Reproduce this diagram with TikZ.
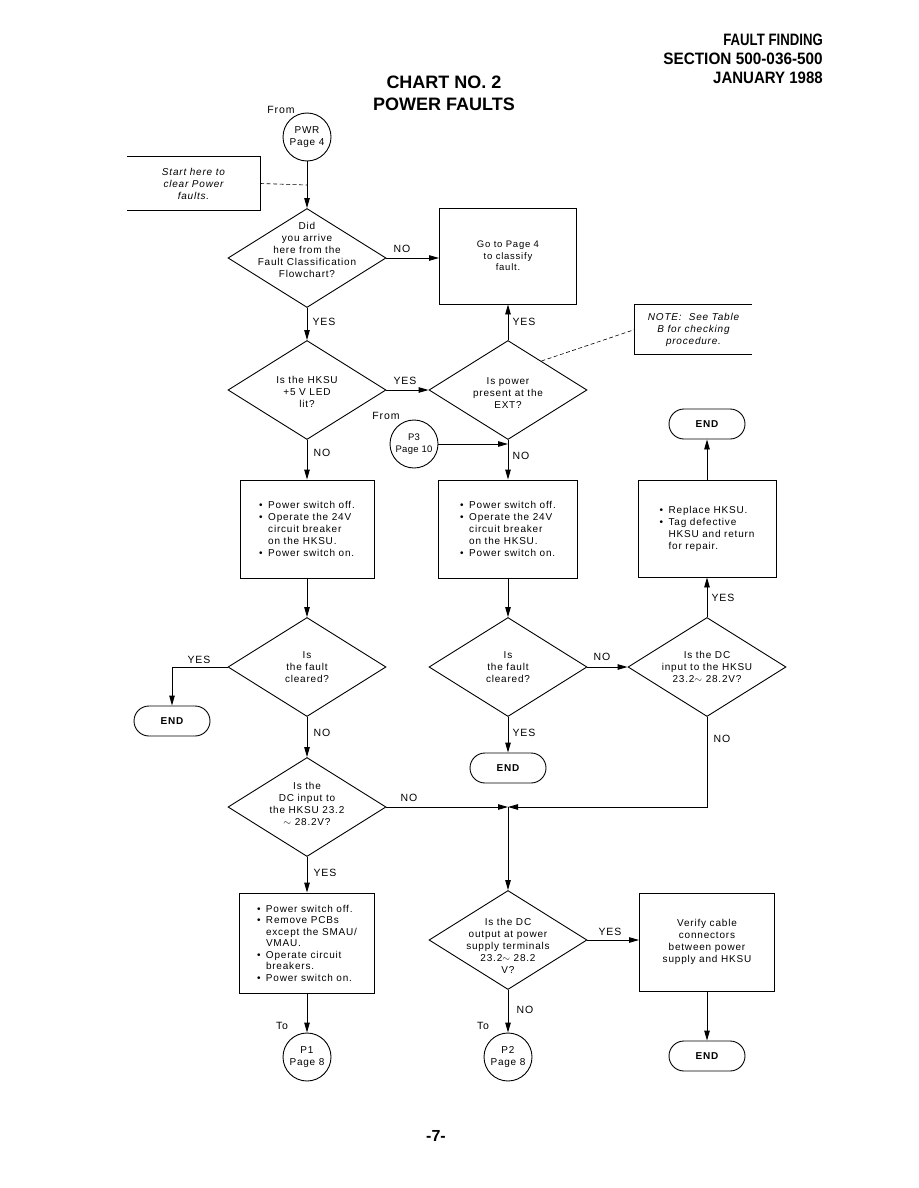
\documentclass[tikz,border=0pt]{standalone}
\usepackage{fontspec}
\usepackage{graphicx}
\setmainfont{Liberation Sans}
\newfontfamily\lbl[LetterSpace=8]{Liberation Sans}
\newfontfamily\lbltight[LetterSpace=3]{Liberation Sans}
\usetikzlibrary{shapes.geometric,shapes.misc,arrows.meta,calc}
\newcommand{\mybul}{\makebox[9pt][l]{\textbullet}}
\newcommand{\myind}{\hspace*{9pt}}
\begin{document}
\begin{tikzpicture}[x=1pt,y=-1pt,
  lw/.style={line width=0.9pt},
  dia/.style={diamond, draw, lw, minimum width=158pt, minimum height=99pt, inner sep=0pt},
  box/.style={rectangle, draw, lw, inner sep=0pt, font=\lbl\fontsize{10}{12}\selectfont, align=left},
  cbox/.style={box, align=center},
  circ/.style={circle, draw, lw, minimum size=48pt, inner sep=0pt, font=\lbl\fontsize{10}{11.5}\selectfont, align=center},
  endbox/.style={rounded rectangle, draw, lw, minimum width=76pt, minimum height=30pt, inner sep=0pt, font=\lbl\bfseries\fontsize{10}{11}\selectfont},
  txt/.style={font=\lbl\fontsize{10}{12}\selectfont, align=center, inner sep=0pt},
  itxt/.style={font=\lbl\itshape\fontsize{10}{12}\selectfont, align=center, inner sep=0pt},
  lab/.style={font=\lbl\fontsize{10.5}{11}\selectfont, inner sep=0pt},
  hdr/.style={font=\bfseries\fontsize{16.5}{18}\selectfont, inner sep=0pt, anchor=base east},
  ttl/.style={font=\bfseries\fontsize{18}{20}\selectfont, inner sep=0pt, anchor=base},
  arr/.style={lw, -{Triangle[length=10pt,width=5.5pt]}},
  conn/.style={lw},
  dsh/.style={line width=0.6pt, dashed, dash pattern=on 4pt off 2.5pt}
]
\useasboundingbox (0,0) rectangle (918,1188);
\fill[white] (0,0) rectangle (918,1188);

% header
\node[hdr] (h1) at (823,46) {\scalebox{0.8}[1]{FAULT FINDING}};
\node[hdr] (h2) at (823,65) {\scalebox{0.93}[1]{SECTION 500-036-500}};
\node[hdr] (h3) at (823,84) {\scalebox{0.91}[1]{JANUARY 1988}};
\node[ttl] (t1) at (444,89) {CHART NO. 2};
\node[ttl] (t2) at (444,111) {POWER FAULTS};
\node[font=\bfseries\fontsize{16}{18}\selectfont, inner sep=0pt] (pg) at (436,1136) {-7-};

% start note
\node[itxt, minimum width=133pt, minimum height=53pt] (start) at (193.5,183.5) {Start here to\\clear Power\\faults.};
\draw[lw] (start.north west) -- (start.north east) -- (start.south east) -- (start.south west);

% entry circle
\node[lab] (from1) at (281,110) {From};
\node[circ] (pwr) at (307,137) {PWR\\Page 4};

% diamonds
\node[dia] (d1) at (307,258) {};
\node[txt] (d1t) at (307,250) {Did\\you arrive\\here from the\\Fault Classification\\Flowchart?};
\node[dia] (d2) at (307,390) {};
\node[txt] (d2t) at (307,392) {Is the HKSU\\+5 V LED\\lit?};
\node[dia] (d3) at (508,390) {};
\node[txt] (d3t) at (508,393) {Is power\\present at the\\EXT?};
\node[dia] (d6) at (307,667) {};
\node[txt] (d6t) at (307,667) {Is\\the fault\\cleared?};
\node[dia] (d5) at (508,667) {};
\node[txt] (d5t) at (508,667) {Is\\the fault\\cleared?};
\node[dia] (d4) at (707,667) {};
\node[txt] (d4t) at (707,667) {Is the DC\\input to the HKSU\\23.2$\sim$ 28.2V?};
\node[dia] (d7) at (307,807) {};
\node[txt] (d7t) at (307,804) {Is the\\DC input to\\the HKSU 23.2\\$\sim$ 28.2V?};
\node[dia] (d8) at (508,940) {};
\node[txt] (d8t) at (508,946) {Is the DC\\output at power\\supply terminals\\23.2$\sim$ 28.2\\V?};

% boxes
\node[cbox, minimum width=137pt, minimum height=96pt, font=\lbl\fontsize{9.5}{11.5}\selectfont] (goto) at (508,256) {Go to Page 4\\to classify\\fault.};
\node[box, minimum width=134pt, minimum height=98pt] (b1) at (307,529) {\mybul Power switch off.\\\mybul Operate the 24V\\\myind circuit breaker\\\myind on the HKSU.\\\mybul Power switch on.};
\node[box, minimum width=139pt, minimum height=98pt] (b2) at (508,529) {\mybul Power switch off.\\\mybul Operate the 24V\\\myind circuit breaker\\\myind on the HKSU.\\\mybul Power switch on.};
\node[box, minimum width=138pt, minimum height=97pt] (b3) at (707,528.5) {\mybul Replace HKSU.\\\mybul Tag defective\\\myind HKSU and return\\\myind for repair.};
\node[cbox, minimum width=135pt, minimum height=98pt] (b4) at (707,942) {Verify cable\\connectors\\between power\\supply and HKSU};
\node[box, minimum width=135pt, minimum height=100pt, font=\lbl\fontsize{10}{11.5}\selectfont] (b5) at (307,943) {\mybul Power switch off.\\\mybul Remove PCBs\\\myind except the SMAU/\\\myind VMAU.\\\mybul Operate circuit\\\myind breakers.\\\mybul Power switch on.};

% note box
\node[itxt, minimum width=117pt, minimum height=49pt] (note) at (693.5,329.5) {NOTE:~ See Table\\B for checking\\procedure.};
\draw[lw] (note.north east) -- (note.north west) -- (note.south west) -- (note.south east);

% P3 circle
\node[lab] (from2) at (386,416) {From};
\node[circ, font=\lbltight\fontsize{9.5}{11.5}\selectfont] (p3) at (414,444) {P3\\Page 10};

% ENDs
\node[endbox] (e1) at (707,424) {END};
\node[endbox] (e2) at (172,721) {END};
\node[endbox] (e3) at (508,768) {END};
\node[endbox] (e4) at (707,1056) {END};

% exit circles
\node[lab] (to1) at (282,1026) {To};
\node[circ] (p1) at (307,1057) {P1\\Page 8};
\node[lab] (to2) at (483,1026) {To};
\node[circ] (p2) at (508,1057) {P2\\Page 8};

% coordinates
\coordinate (j0) at (307,185);
\coordinate (j1) at (508,807);
\coordinate (j2) at (p3.east -| d3.south);
\coordinate (nd) at ($(d3.north)!0.42!(d3.east)$);

% connectors
\draw[arr] (pwr.south) -- (d1.north);
\draw[dsh] (start.east) -- (j0);
\draw[arr] (d1.east) -- (d1.east -| goto.west);
\draw[arr] (d1.south) -- (d2.north);
\draw[arr] (d2.east) -- (d3.west);
\draw[arr] (d3.north) -- (goto.south);
\draw[dsh] (nd) -- (note.west);
\draw[arr] (d2.south) -- (b1.north);
\draw[arr] (d3.south) -- (b2.north);
\draw[arr] (p3.east) -- (j2);
\draw[arr] (b3.north) -- (e1.south);
\draw[arr] (d4.north) -- (b3.south);
\draw[arr] (b1.south) -- (d6.north);
\draw[arr] (b2.south) -- (d5.north);
\draw[arr] (d5.east) -- (d4.west);
\draw[arr] (d6.west) -| (e2.north);
\draw[arr] (d5.south) -- (e3.north);
\draw[arr] (d6.south) -- (d7.north);
\draw[arr] (d7.east) -- (j1);
\draw[arr] (d4.south) |- (j1);
\draw[arr] (j1) -- (d8.north);
\draw[arr] (d7.south) -- (b5.north);
\draw[arr] (d8.east) -- (d8.east -| b4.west);
\draw[arr] (b4.south) -- (e4.north);
\draw[arr] (b5.south) -- (p1.north);
\draw[arr] (d8.south) -- (p2.north);

% labels
\node[lab] (l1) at (402,249) {NO};
\node[lab] (l2) at (324,322) {YES};
\node[lab] (l3) at (524,322) {YES};
\node[lab] (l4) at (405,381) {YES};
\node[lab] (l5) at (322,453) {NO};
\node[lab] (l6) at (521,456) {NO};
\node[lab] (l7) at (723,598) {YES};
\node[lab] (l8) at (199,660) {YES};
\node[lab] (l9) at (602,657) {NO};
\node[lab] (l10) at (322,733) {NO};
\node[lab] (l11) at (524,733) {YES};
\node[lab] (l12) at (722,739) {NO};
\node[lab] (l13) at (409,798) {NO};
\node[lab] (l14) at (325,873) {YES};
\node[lab] (l15) at (610,932) {YES};
\node[lab] (l16) at (525,1010) {NO};
\end{tikzpicture}
\end{document}
